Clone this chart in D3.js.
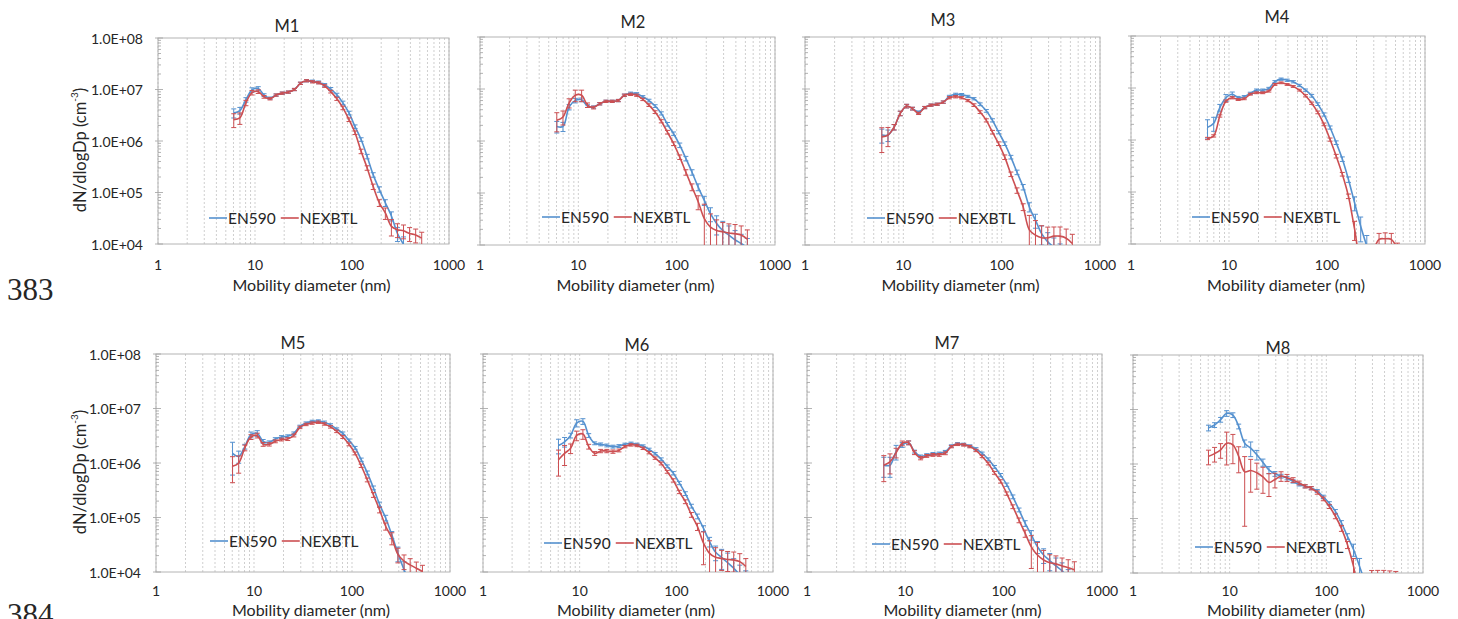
<!DOCTYPE html>
<html>
<head>
<meta charset="utf-8">
<script src="https://cdn.jsdelivr.net/npm/d3@7"></script>
<style>
  body { margin: 0; background: #fff; }
  svg { display: block; }
  text { font-family: Lato, "Open Sans", sans-serif; fill: #262626; }
</style>
</head>
<body>
<svg id="chart" width="1458" height="619"></svg>
<script>
// EEPS channel mid-points (nm)
const diameters = [6.04, 6.98, 8.06, 9.31, 10.8, 12.4, 14.3, 16.5, 19.1, 22.1, 25.5, 29.4, 34.0, 39.2, 45.3, 52.3,
  60.4, 69.8, 80.6, 93.1, 107.5, 124.1, 143.3, 165.5, 191.1, 220.7, 254.8, 294.3, 339.8, 392.4, 453.2, 523.3];

const panelNames = ['M1', 'M2', 'M3', 'M4', 'M5', 'M6', 'M7', 'M8'];
const seriesNames = ['EN590', 'NEXBTL'];
const xTickValues = [1, 10, 100, 1000];
const xTickLabels = ['1', '10', '100', '1000'];
const yTickValues = [1e4, 1e5, 1e6, 1e7, 1e8];
const yTickLabels = ['1.0E+04', '1.0E+05', '1.0E+06', '1.0E+07', '1.0E+08'];
const xTitle = 'Mobility diameter (nm)';
const lineNumbers = ['383', '384'];

// dN/dlogDp (cm-3)
const m1En590 = [3.5e6, 3.9e6, 6.3e6, 9.8e6, 1.05e7, 7.8e6, 6.8e6, 7.8e6, 8.5e6, 8.9e6, 1.0e7, 1.32e7, 1.48e7, 1.45e7, 1.38e7, 1.23e7,
  1.02e7, 7.9e6, 5.5e6, 3.5e6, 1.9e6, 1.07e6, 5.0e5, 2.2e5, 1.15e5, 6.3e4, 3.5e4, 1.6e4, 9.8e3, 6.0e3, 4.0e3, 3.0e3];
const m1Nexbtl = [2.6e6, 2.8e6, 5.5e6, 8.7e6, 9.1e6, 7.2e6, 6.6e6, 7.8e6, 8.5e6, 8.9e6, 1.0e7, 1.32e7, 1.48e7, 1.41e7, 1.35e7, 1.17e7,
  9.1e6, 6.6e6, 4.4e6, 2.6e6, 1.45e6, 6.3e5, 3.0e5, 1.3e5, 6.3e4, 4.0e4, 2.2e4, 1.9e4, 1.8e4, 1.6e4, 1.5e4, 1.3e4];
const m2En590 = [1.9e6, 1.9e6, 4.5e6, 6.0e6, 6.2e6, 4.7e6, 4.5e6, 5.2e6, 5.8e6, 5.8e6, 6.0e6, 7.6e6, 8.3e6, 8.1e6, 7.1e6, 6.0e6,
  4.7e6, 3.4e6, 2.1e6, 1.38e6, 8.3e5, 4.6e5, 2.5e5, 1.3e5, 7.2e4, 4.0e4, 2.6e4, 1.9e4, 1.55e4, 1.26e4, 1.07e4, 8.9e3];
const m2Nexbtl = [2.5e6, 2.9e6, 5.4e6, 7.6e6, 7.6e6, 4.9e6, 4.4e6, 5.2e6, 5.8e6, 5.8e6, 6.0e6, 7.6e6, 7.9e6, 7.6e6, 6.3e6, 4.9e6,
  3.6e6, 2.4e6, 1.48e6, 8.9e5, 4.9e5, 2.5e5, 1.3e5, 6.8e4, 3.2e4, 2.2e4, 1.9e4, 1.8e4, 1.7e4, 1.65e4, 1.55e4, 1.3e4];
const m3En590 = [1.3e6, 1.3e6, 1.85e6, 3.4e6, 4.7e6, 4.2e6, 3.6e6, 4.4e6, 4.9e6, 5.1e6, 5.6e6, 7.2e6, 7.9e6, 7.8e6, 7.2e6, 6.5e6,
  5.1e6, 3.8e6, 2.5e6, 1.48e6, 8.9e5, 4.9e5, 2.5e5, 1.3e5, 5.4e4, 3.0e4, 1.66e4, 1.15e4, 9.1e3, 7.0e3, 5.6e3, 4.5e3];
const m3Nexbtl = [1.2e6, 1.3e6, 1.85e6, 3.4e6, 4.7e6, 4.2e6, 3.4e6, 4.4e6, 4.9e6, 5.1e6, 5.6e6, 6.8e6, 7.1e6, 6.8e6, 6.0e6, 4.9e6,
  3.6e6, 2.5e6, 1.48e6, 8.9e5, 4.9e5, 2.3e5, 1.12e5, 5.4e4, 1.95e4, 1.55e4, 1.38e4, 1.38e4, 1.48e4, 1.48e4, 1.35e4, 1.07e4];
const m4En590 = [1.75e6, 2.1e6, 4.2e6, 6.5e6, 7.6e6, 6.5e6, 6.8e6, 7.9e6, 9.1e6, 9.1e6, 9.8e6, 1.32e7, 1.48e7, 1.41e7, 1.32e7, 1.12e7,
  9.1e6, 7.1e6, 4.9e6, 3.1e6, 1.74e6, 8.9e5, 4.3e5, 1.74e5, 6.2e4, 2.2e4, 9.1e3, 4.0e3, 2.0e3, 1.3e3, 1.0e3, 8.0e2];
const m4Nexbtl = [1.07e6, 1.2e6, 2.9e6, 5.6e6, 6.5e6, 6.0e6, 6.2e6, 7.6e6, 8.1e6, 8.1e6, 8.7e6, 1.17e7, 1.26e7, 1.17e7, 1.07e7, 9.1e6,
  7.1e6, 5.1e6, 3.4e6, 2.0e6, 1.02e6, 4.9e5, 2.2e5, 8.3e4, 1.95e4, 5.0e3, 4.0e3, 7.0e3, 1.23e4, 1.26e4, 1.23e4, 8.0e3];
const m5En590 = [1.5e6, 1.32e6, 2.0e6, 3.3e6, 3.5e6, 2.5e6, 2.4e6, 2.75e6, 3.0e6, 3.1e6, 3.5e6, 4.7e6, 5.4e6, 5.8e6, 5.9e6, 5.6e6,
  5.0e6, 4.2e6, 3.5e6, 2.6e6, 1.9e6, 1.15e6, 6.6e5, 3.5e5, 1.74e5, 9.8e4, 4.8e4, 2.2e4, 1.1e4, 6.3e3, 4.0e3, 2.5e3];
const m5Nexbtl = [8.7e5, 1.0e6, 1.9e6, 3.0e6, 3.2e6, 2.2e6, 2.2e6, 2.5e6, 2.7e6, 2.75e6, 3.2e6, 4.5e6, 5.1e6, 5.4e6, 5.6e6, 5.2e6,
  4.6e6, 3.8e6, 3.0e6, 2.2e6, 1.5e6, 8.9e5, 4.9e5, 2.6e5, 1.38e5, 6.9e4, 4.2e4, 2.1e4, 1.58e4, 1.35e4, 1.17e4, 1.02e4];
const m6En590 = [2.1e6, 2.45e6, 3.2e6, 5.4e6, 5.8e6, 3.2e6, 2.3e6, 2.2e6, 2.1e6, 2.0e6, 2.05e6, 2.2e6, 2.3e6, 2.2e6, 2.05e6, 1.78e6,
  1.48e6, 1.17e6, 8.7e5, 6.5e5, 4.3e5, 2.75e5, 1.62e5, 1.05e5, 6.3e4, 3.6e4, 2.3e4, 1.86e4, 1.48e4, 1.17e4, 8.9e3, 7.0e3];
const m6Nexbtl = [1.15e6, 1.5e6, 1.86e6, 3.2e6, 3.4e6, 2.0e6, 1.5e6, 1.66e6, 1.66e6, 1.62e6, 1.7e6, 2.0e6, 2.15e6, 2.1e6, 1.86e6, 1.55e6,
  1.23e6, 9.8e5, 6.9e5, 4.8e5, 2.95e5, 1.95e5, 1.12e5, 6.8e4, 3.4e4, 2.2e4, 1.86e4, 1.78e4, 1.7e4, 1.66e4, 1.55e4, 1.26e4];
const m7En590 = [9.1e5, 9.1e5, 1.62e6, 2.15e6, 2.35e6, 1.62e6, 1.32e6, 1.41e6, 1.48e6, 1.51e6, 1.62e6, 2.05e6, 2.25e6, 2.2e6, 2.05e6, 1.82e6,
  1.51e6, 1.17e6, 8.5e5, 6.0e5, 4.0e5, 2.4e5, 1.38e5, 7.8e4, 4.8e4, 2.9e4, 2.05e4, 1.62e4, 1.29e4, 1.05e4, 7.9e3, 6.3e3];
const m7Nexbtl = [9.1e5, 1.05e6, 1.55e6, 2.3e6, 2.35e6, 1.55e6, 1.23e6, 1.35e6, 1.41e6, 1.41e6, 1.51e6, 2.0e6, 2.2e6, 2.15e6, 2.0e6, 1.7e6,
  1.32e6, 9.8e5, 6.6e5, 4.6e5, 2.75e5, 1.58e5, 8.9e4, 5.1e4, 2.9e4, 2.05e4, 1.66e4, 1.48e4, 1.41e4, 1.29e4, 1.2e4, 1.1e4];
const m8En590 = [4.6e6, 5.2e6, 6.5e6, 8.5e6, 7.9e6, 4.9e6, 2.4e6, 1.95e6, 1.48e6, 1.07e6, 7.8e5, 6.6e5, 6.0e5, 5.5e5, 4.8e5, 4.2e5,
  3.9e5, 3.6e5, 3.2e5, 2.5e5, 1.9e5, 1.35e5, 8.3e4, 4.7e4, 2.7e4, 1.32e4, 6.3e3, 3.2e3, 2.0e3, 1.6e3, 1.3e3, 1.0e3];
const m8Nexbtl = [1.38e6, 1.55e6, 1.82e6, 2.4e6, 2.25e6, 1.38e6, 7.2e5, 7.6e5, 6.9e5, 5.8e5, 4.6e5, 5.2e5, 6.0e5, 5.6e5, 5.1e5, 4.5e5,
  3.9e5, 3.6e5, 3.0e5, 2.3e5, 1.66e5, 1.1e5, 6.6e4, 3.3e4, 1.32e4, 4.0e3, 3.0e3, 8.9e3, 9.3e3, 9.3e3, 9.1e3, 8.9e3];

// relative standard deviations (fraction of value)
const m1En590Err = [0.2, 0.15, 0.1, 0.1, 0.08, 0.06, 0.05, 0.05, 0.05, 0.05, 0.05, 0.05, 0.05, 0.05, 0.06, 0.06,
  0.07, 0.07, 0.08, 0.08, 0.08, 0.08, 0.1, 0.1, 0.12, 0.15, 0.2, 0.3, 0.4, 0.5, 0.5, 0.5];
const m1NexbtlErr = [0.3, 0.25, 0.12, 0.1, 0.08, 0.06, 0.05, 0.05, 0.05, 0.05, 0.05, 0.05, 0.05, 0.05, 0.05, 0.06,
  0.06, 0.07, 0.08, 0.08, 0.08, 0.1, 0.1, 0.12, 0.15, 0.25, 0.35, 0.3, 0.3, 0.3, 0.3, 0.3];
const m2En590Err = [0.25, 0.2, 0.12, 0.1, 0.08, 0.06, 0.05, 0.05, 0.05, 0.05, 0.05, 0.05, 0.05, 0.05, 0.05, 0.06,
  0.06, 0.07, 0.08, 0.08, 0.1, 0.1, 0.12, 0.15, 0.2, 0.3, 0.4, 0.5, 0.5, 0.5, 0.5, 0.5];
const m2NexbtlErr = [0.4, 0.3, 0.2, 0.25, 0.25, 0.1, 0.06, 0.05, 0.05, 0.05, 0.05, 0.05, 0.05, 0.05, 0.05, 0.06,
  0.06, 0.07, 0.08, 0.08, 0.1, 0.12, 0.15, 0.3, 0.9, 0.8, 0.6, 0.5, 0.5, 0.5, 0.5, 0.5];
const m3En590Err = [0.3, 0.25, 0.12, 0.1, 0.08, 0.06, 0.05, 0.05, 0.05, 0.05, 0.05, 0.05, 0.05, 0.05, 0.05, 0.05,
  0.06, 0.06, 0.07, 0.07, 0.08, 0.08, 0.1, 0.12, 0.2, 0.3, 0.4, 0.5, 0.5, 0.5, 0.5, 0.5];
const m3NexbtlErr = [0.5, 0.4, 0.12, 0.1, 0.08, 0.06, 0.05, 0.05, 0.05, 0.05, 0.05, 0.05, 0.05, 0.05, 0.05, 0.06,
  0.06, 0.07, 0.08, 0.08, 0.1, 0.1, 0.12, 0.15, 0.9, 0.9, 0.7, 0.6, 0.5, 0.5, 0.5, 0.5];
const m4En590Err = [0.4, 0.3, 0.15, 0.15, 0.1, 0.06, 0.05, 0.05, 0.05, 0.05, 0.05, 0.05, 0.05, 0.05, 0.05, 0.05,
  0.05, 0.06, 0.06, 0.07, 0.07, 0.08, 0.1, 0.12, 0.3, 0.5, 0.6, 0.6, 0.6, 0.6, 0.6, 0.6];
const m4NexbtlErr = [0.05, 0.05, 0.05, 0.05, 0.05, 0.04, 0.04, 0.04, 0.04, 0.04, 0.04, 0.04, 0.04, 0.04, 0.04, 0.04,
  0.05, 0.05, 0.06, 0.06, 0.07, 0.08, 0.08, 0.1, 0.4, 0.5, 0.5, 0.4, 0.3, 0.3, 0.3, 0.3];
const m5En590Err = [0.6, 0.25, 0.1, 0.12, 0.12, 0.08, 0.06, 0.06, 0.06, 0.06, 0.06, 0.05, 0.05, 0.05, 0.05, 0.05,
  0.05, 0.05, 0.06, 0.06, 0.06, 0.07, 0.08, 0.08, 0.1, 0.12, 0.15, 0.3, 0.4, 0.5, 0.5, 0.5];
const m5NexbtlErr = [0.5, 0.35, 0.12, 0.1, 0.1, 0.08, 0.07, 0.06, 0.06, 0.06, 0.06, 0.05, 0.05, 0.05, 0.05, 0.05,
  0.05, 0.05, 0.06, 0.06, 0.06, 0.07, 0.08, 0.1, 0.12, 0.15, 0.25, 0.3, 0.3, 0.3, 0.3, 0.3];
const m6En590Err = [0.3, 0.2, 0.1, 0.15, 0.12, 0.08, 0.06, 0.06, 0.06, 0.06, 0.06, 0.05, 0.05, 0.05, 0.05, 0.05,
  0.05, 0.06, 0.06, 0.07, 0.07, 0.08, 0.08, 0.1, 0.12, 0.2, 0.3, 0.4, 0.5, 0.5, 0.5, 0.5];
const m6NexbtlErr = [0.5, 0.4, 0.2, 0.2, 0.2, 0.1, 0.08, 0.07, 0.07, 0.07, 0.06, 0.05, 0.05, 0.05, 0.05, 0.05,
  0.05, 0.06, 0.06, 0.07, 0.07, 0.08, 0.1, 0.15, 0.6, 0.7, 0.5, 0.4, 0.4, 0.4, 0.4, 0.4];
const m7En590Err = [0.4, 0.4, 0.3, 0.1, 0.08, 0.06, 0.06, 0.05, 0.05, 0.05, 0.05, 0.05, 0.05, 0.05, 0.05, 0.05,
  0.05, 0.06, 0.06, 0.07, 0.07, 0.08, 0.08, 0.12, 0.2, 0.25, 0.3, 0.35, 0.4, 0.4, 0.4, 0.4];
const m7NexbtlErr = [0.5, 0.4, 0.2, 0.1, 0.08, 0.08, 0.07, 0.06, 0.06, 0.06, 0.06, 0.05, 0.05, 0.05, 0.05, 0.05,
  0.05, 0.06, 0.06, 0.07, 0.07, 0.08, 0.1, 0.15, 0.6, 0.7, 0.5, 0.4, 0.4, 0.4, 0.4, 0.4];
const m8En590Err = [0.12, 0.1, 0.1, 0.12, 0.1, 0.1, 0.15, 0.3, 0.2, 0.15, 0.15, 0.1, 0.08, 0.07, 0.07, 0.06,
  0.06, 0.06, 0.06, 0.07, 0.07, 0.08, 0.1, 0.12, 0.25, 0.4, 0.5, 0.5, 0.5, 0.5, 0.5, 0.5];
const m8NexbtlErr = [0.3, 0.3, 0.3, 0.6, 0.55, 0.5, 0.9, 0.6, 0.5, 0.5, 0.45, 0.3, 0.2, 0.15, 0.1, 0.08,
  0.07, 0.07, 0.07, 0.08, 0.08, 0.1, 0.12, 0.15, 0.4, 0.5, 0.5, 0.25, 0.2, 0.2, 0.2, 0.2];

const en590Sets = [m1En590, m2En590, m3En590, m4En590, m5En590, m6En590, m7En590, m8En590];
const nexbtlSets = [m1Nexbtl, m2Nexbtl, m3Nexbtl, m4Nexbtl, m5Nexbtl, m6Nexbtl, m7Nexbtl, m8Nexbtl];
const en590ErrSets = [m1En590Err, m2En590Err, m3En590Err, m4En590Err, m5En590Err, m6En590Err, m7En590Err, m8En590Err];
const nexbtlErrSets = [m1NexbtlErr, m2NexbtlErr, m3NexbtlErr, m4NexbtlErr, m5NexbtlErr, m6NexbtlErr, m7NexbtlErr, m8NexbtlErr];

const colors = ['#5591cf', '#cc4f52'];

// plot-area boxes of the 8 panels (pixels)
const frames = [
  { l: 158, r: 449, t: 38, b: 244, tx: 287, ty: 26, lx: 209, ly: 218 },
  { l: 480, r: 775, t: 37, b: 245, tx: 633, ty: 22, lx: 542, ly: 217 },
  { l: 805, r: 1100, t: 37, b: 245, tx: 943, ty: 20, lx: 867, ly: 218 },
  { l: 1131, r: 1425, t: 36, b: 244, tx: 1277, ty: 17, lx: 1192, ly: 217 },
  { l: 156, r: 450, t: 354, b: 572, tx: 293, ty: 343, lx: 210, ly: 541 },
  { l: 483, r: 773, t: 354, b: 572, tx: 637, ty: 345, lx: 544, ly: 543 },
  { l: 807, r: 1102, t: 354, b: 572, tx: 947, ty: 343, lx: 872, ly: 544 },
  { l: 1133, r: 1423, t: 355, b: 573, tx: 1278, ty: 348, lx: 1195, ly: 547 }
];

const svg = d3.select('#chart');
const defs = svg.append('defs');

// all 1..9 x 10^k values between 1 and 1000
const minorX = d3.range(0, 3).flatMap(k => d3.range(1, 10).map(m => m * Math.pow(10, k))).concat([1000]);
const minorY = d3.range(4, 8).flatMap(k => d3.range(1, 10).map(m => m * Math.pow(10, k))).concat([1e8]);

panelNames.forEach((name, i) => {
  const f = frames[i];
  const x = d3.scaleLog().domain([1, 1000]).range([f.l, f.r]);
  const y = d3.scaleLog().domain([1e4, 1e8]).range([f.b, f.t]);
  const g = svg.append('g');

  defs.append('clipPath').attr('id', 'clip' + i)
    .append('rect').attr('x', f.l).attr('y', f.t).attr('width', f.r - f.l).attr('height', f.b - f.t);

  // vertical grid lines
  g.selectAll('.grid').data(minorX).enter().append('line')
    .attr('x1', d => x(d)).attr('x2', d => x(d))
    .attr('y1', f.t).attr('y2', f.b)
    .attr('stroke', '#cfcfcf').attr('stroke-width', 1)
    .attr('stroke-dasharray', '2,2');

  // plot border
  g.append('rect').attr('x', f.l).attr('y', f.t)
    .attr('width', f.r - f.l).attr('height', f.b - f.t)
    .attr('fill', 'none').attr('stroke', '#b4b4b4').attr('stroke-width', 1);

  // left axis ticks
  g.selectAll('.ytick').data(minorY).enter().append('line')
    .attr('x1', d => yTickValues.includes(d) ? f.l - 3 : f.l)
    .attr('x2', d => yTickValues.includes(d) ? f.l + 5 : f.l + 3)
    .attr('y1', d => y(d)).attr('y2', d => y(d))
    .attr('stroke', '#a0a0a0').attr('stroke-width', 0.8);

  if (i % 4 === 0) {
    g.selectAll('.ylab').data(yTickValues).enter().append('text')
      .attr('x', f.l - 15).attr('y', d => y(d))
      .attr('text-anchor', 'end').attr('dominant-baseline', 'central')
      .attr('font-size', 14)
      .text((d, k) => yTickLabels[k]);

    const yt = g.append('text')
      .attr('transform', `translate(80,${(f.t + f.b) / 2 + 9}) rotate(-90)`)
      .attr('text-anchor', 'middle').attr('dominant-baseline', 'central')
      .attr('font-size', 16.5);
    yt.append('tspan').text('dN/dlogDp (cm');
    yt.append('tspan').attr('font-size', 10).attr('dy', -6).text('-3');
    yt.append('tspan').attr('dy', 6).text(')');
  }

  // x tick labels
  const labY = i < 4 ? 264 : 590;
  g.selectAll('.xlab').data(xTickValues).enter().append('text')
    .attr('x', d => x(d)).attr('y', labY)
    .attr('text-anchor', 'middle').attr('dominant-baseline', 'central')
    .attr('font-size', 14)
    .text((d, k) => xTickLabels[k]);

  g.append('text')
    .attr('x', (f.l + f.r) / 2 + 8).attr('y', i < 4 ? 284 : 609.5)
    .attr('text-anchor', 'middle').attr('dominant-baseline', 'central')
    .attr('font-size', 16)
    .text(xTitle);

  // panel title
  g.append('text')
    .attr('x', f.tx).attr('y', f.ty)
    .attr('text-anchor', 'middle').attr('dominant-baseline', 'central')
    .attr('font-size', 16.5)
    .text(name);

  // data
  const plot = g.append('g').attr('clip-path', `url(#clip${i})`);
  const sets = [en590Sets[i], nexbtlSets[i]];
  const errs = [en590ErrSets[i], nexbtlErrSets[i]];
  const line = d3.line()
    .x(d => x(d.d)).y(d => y(d.v))
    .curve(d3.curveCatmullRom.alpha(0.5));

  sets.forEach((vals, s) => {
    const pts = diameters.map((d, k) => ({ d, v: vals[k], e: errs[s][k] }));
    const bars = plot.append('g').attr('stroke', colors[s]).attr('stroke-width', 1);
    pts.forEach(p => {
      const hi = p.v * (1 + p.e);
      const lo = Math.max(p.v * (1 - p.e), 1);
      const cx = x(p.d);
      bars.append('line').attr('x1', cx).attr('x2', cx).attr('y1', y(hi)).attr('y2', y(lo));
      bars.append('line').attr('x1', cx - 2.5).attr('x2', cx + 2.5).attr('y1', y(hi)).attr('y2', y(hi));
      bars.append('line').attr('x1', cx - 2.5).attr('x2', cx + 2.5).attr('y1', y(lo)).attr('y2', y(lo));
    });
    plot.append('path').datum(pts)
      .attr('d', line)
      .attr('fill', 'none').attr('stroke', colors[s]).attr('stroke-width', 1.6);
  });

  // legend
  const lg = g.append('g').attr('transform', `translate(${f.lx},${f.ly})`);
  let cx = 0;
  seriesNames.forEach((sn, s) => {
    lg.append('line').attr('x1', cx).attr('x2', cx + 18).attr('y1', 0).attr('y2', 0)
      .attr('stroke', colors[s]).attr('stroke-width', 1.6);
    const t = lg.append('text').attr('x', cx + 19).attr('y', 0)
      .attr('dominant-baseline', 'central').attr('font-size', 15.5).text(sn);
    cx += 19 + t.node().getComputedTextLength() + 5;
  });
});

// manuscript line numbers
svg.selectAll('.ln').data(lineNumbers).enter().append('text')
  .attr('x', 7).attr('y', (d, k) => k === 0 ? 300 : 625)
  .style('font-family', '"Liberation Serif", "DejaVu Serif", serif')
  .attr('font-size', 31)
  .attr('fill', '#111')
  .text(d => d);
</script>
</body>
</html>
